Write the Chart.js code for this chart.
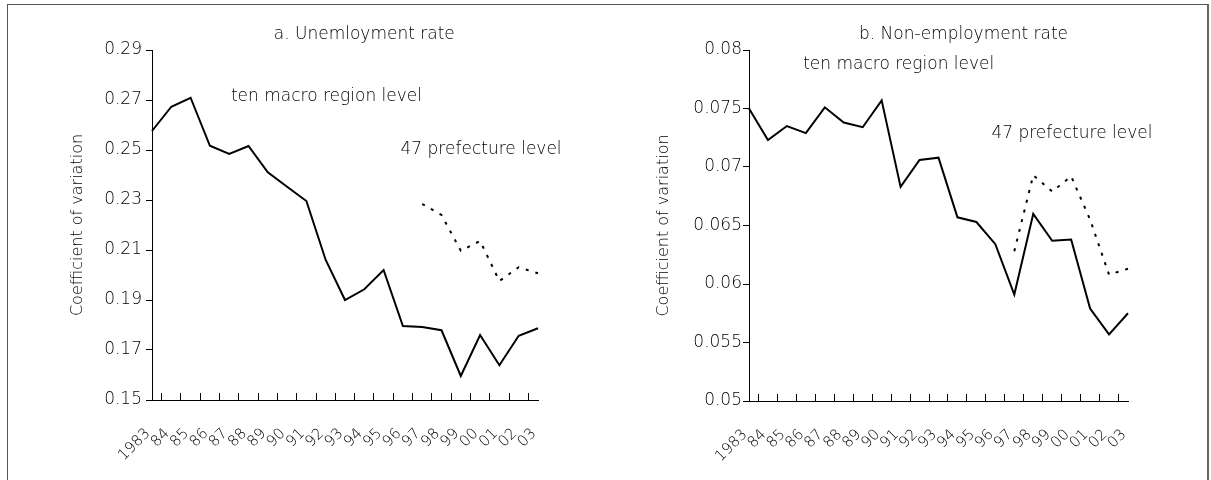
<!DOCTYPE html>
<html>
<head>
<meta charset="utf-8">
<script src="https://cdn.jsdelivr.net/npm/chart.js@4.4.1/dist/chart.umd.min.js"></script>
<style>
  html, body { margin: 0; padding: 0; background: #fff; }
  #wrap { position: relative; width: 1211px; height: 480px; overflow: hidden; }
  #frame { position: absolute; left: 7px; top: 4px; width: 1199px; height: 500px;
           border-left: 1px solid #555; border-top: 1px solid #555; border-right: 2px solid #666; }
  canvas { position: absolute; top: 0; }
</style>
</head>
<body>
<div id="wrap">
  <div id="frame"></div>
  <canvas id="chartA" width="600" height="480" style="left:0"></canvas>
  <canvas id="chartB" width="611" height="480" style="left:600px"></canvas>
</div>
<script>
const years = ['1983', '84', '85', '86', '87', '88', '89', '90', '91', '92', '93', '94',
               '95', '96', '97', '98', '99', '00', '01', '02', '03'];

// a. Unemployment rate
const unempMacro = [0.2576, 0.2673, 0.2709, 0.2517, 0.2484, 0.2516, 0.2411, 0.2353, 0.2296, 0.206,
                    0.19, 0.1943, 0.202, 0.1796, 0.1792, 0.1779, 0.1596, 0.176, 0.1639, 0.1757, 0.1787];
const unempPref = [null, null, null, null, null, null, null, null, null, null, null, null, null, null,
                   0.2284, 0.224, 0.2097, 0.2136, 0.1976, 0.2031, 0.2007];
const ticksA = ['0.15', '0.17', '0.19', '0.21', '0.23', '0.25', '0.27', '0.29'];

// b. Non-employment rate
const nonempMacro = [0.075, 0.0723, 0.0735, 0.0729, 0.0751, 0.0738, 0.0734, 0.0757, 0.0683, 0.0706,
                     0.0708, 0.0657, 0.0653, 0.0634, 0.0591, 0.066, 0.0637, 0.0638, 0.0579, 0.0557, 0.0575];
const nonempPref = [null, null, null, null, null, null, null, null, null, null, null, null, null, null,
                    0.0628, 0.0693, 0.0679, 0.0692, 0.0655, 0.0608, 0.0613];
const ticksB = ['0.05', '0.055', '0.06', '0.065', '0.07', '0.075', '0.08'];

const FONT = 'DejaVu Sans';
const WEIGHT = '200';
const TEXT = '#000';

// free text placed in data coordinates (category index, value)
const textLabels = {
    id: 'textLabels',
    afterDraw(chart, args, opts) {
        const { ctx } = chart;
        const x = chart.scales.x, y = chart.scales.y;
        ctx.save();
        ctx.font = WEIGHT + ' 17px "' + FONT + '"';
        ctx.fillStyle = TEXT;
        ctx.textAlign = 'center';
        ctx.textBaseline = 'middle';
        opts.items.forEach(function (it) {
            ctx.fillText(it.text, x.getPixelForValue(it.x), y.getPixelForValue(it.y));
        });
        ctx.restore();
    }
};

function makeChart(id, macro, pref, min, max, step, tickLabels, opt) {
    return new Chart(document.getElementById(id), {
        type: 'line',
        data: {
            labels: years,
            datasets: [{
                data: macro,
                borderColor: '#000',
                borderWidth: 2,
                pointRadius: 0,
                tension: 0
            }, {
                data: pref,
                borderColor: '#000',
                borderWidth: 2,
                borderDash: [3, 7],
                pointRadius: 0,
                tension: 0,
                spanGaps: false
            }]
        },
        options: {
            responsive: false,
            animation: false,
            events: [],
            layout: { padding: { top: 50, right: opt.right, left: 0, bottom: 0 } },
            plugins: {
                legend: { display: false },
                tooltip: { enabled: false },
                textLabels: { items: opt.texts }
            },
            scales: {
                x: {
                    afterFit: function (s) { s.height = opt.bottom; },
                    grid: { offset: true, drawOnChartArea: false, tickLength: -7, color: '#000', tickWidth: 1 },
                    border: { color: '#000', width: 1 },
                    ticks: {
                        autoSkip: false, maxRotation: 45, minRotation: 45,
                        padding: 32, labelOffset: -4, color: TEXT,
                        font: { family: FONT, size: 15, weight: WEIGHT }
                    }
                },
                y: {
                    min: min, max: max,
                    afterFit: function (s) { s.width = opt.left; },
                    grid: { drawOnChartArea: false, tickLength: 6, color: '#000' },
                    border: { color: '#000', width: 1 },
                    ticks: {
                        stepSize: step, padding: opt.tickPad, color: TEXT,
                        font: { family: FONT, size: 17, weight: WEIGHT },
                        callback: function (v, i) { return tickLabels[i]; }
                    },
                    title: {
                        display: true, text: 'Coefficient of variation', color: TEXT,
                        font: { family: FONT, size: 16, weight: WEIGHT },
                        padding: { top: opt.titlePad, bottom: 0 }
                    }
                }
            }
        },
        plugins: [textLabels]
    });
}

makeChart('chartA', unempMacro, unempPref, 0.15, 0.29, 0.02, ticksA, {
    left: 152, right: 62, bottom: 80, tickPad: 4, titlePad: 68,
    texts: [
        { text: 'a. Unemloyment rate', x: 11, y: 0.2962 },
        { text: 'ten macro region level', x: 9.04, y: 0.2713 },
        { text: '47 prefecture level', x: 17.05, y: 0.25 }
    ]
});

makeChart('chartB', nonempMacro, nonempPref, 0.05, 0.08, 0.005, ticksB, {
    left: 149, right: 83, bottom: 79, tickPad: 1, titlePad: 54,
    texts: [
        { text: 'b. Non-employment rate', x: 11.32, y: 0.0813 },
        { text: 'ten macro region level', x: 7.9, y: 0.07872 },
        { text: '47 prefecture level', x: 17.04, y: 0.07288 }
    ]
});
</script>
</body>
</html>
